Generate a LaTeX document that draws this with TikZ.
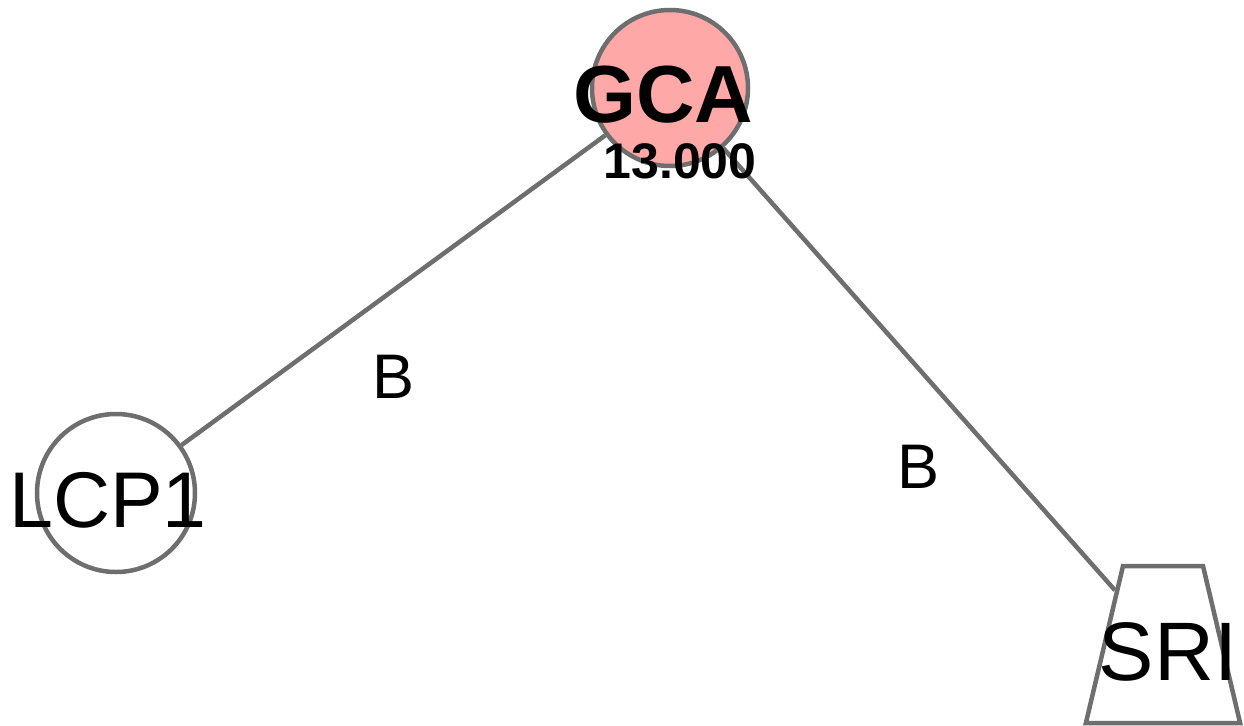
\documentclass[tikz,border=0pt]{standalone}
\usepackage{fontspec}
\setmainfont{Liberation Sans}
\usepackage{xcolor}
\usetikzlibrary{shapes.geometric}
\definecolor{edgegray}{HTML}{6E6E6E}
\definecolor{gcared}{HTML}{FFA8A8}

\begin{document}
\begin{tikzpicture}[x=1pt, y=-1pt,
    gene/.style={circle, draw=edgegray, line width=4.5pt, inner sep=0pt},
    link/.style={draw=edgegray, line width=4.5pt},
    namelbl/.style={anchor=base, inner sep=0pt},
    edgelbl/.style={anchor=base, inner sep=0pt, font=\fontsize{63}{74}\selectfont}]
        \useasboundingbox (0,0) rectangle (1244,725);

        % Gene nodes
        \node[gene, fill=gcared, minimum size=156pt] (GCA) at (670,88) {};
        \node[gene, fill=white, minimum size=158pt] (LCP1) at (116,493) {};
        \node[trapezium, trapezium angle=76.7, draw=edgegray, line width=4.5pt,
              fill=white, inner xsep=40pt, inner ysep=78.5pt] (SRI) at (1163,644.5) {};

        % Interactions
        \draw[link] (GCA) -- (LCP1);
        \draw[link] (GCA) -- (SRI);
        \node[edgelbl] (lblA) at (394,398) {B};
        \node[edgelbl] (lblB) at (918,488) {B};

        % Node texts
        \node[anchor=base, inner sep=0pt, font=\fontsize{81}{96}\selectfont\bfseries] (GCAname) at (663,122) {GCA};
        \node[anchor=base, inner sep=0pt, font=\fontsize{50}{60}\selectfont\bfseries] (GCAval) at (680,178) {13.000};
        \node[namelbl, font=\fontsize{79}{94}\selectfont] (LCP1name) at (108,527) {LCP1};
        \node[namelbl, font=\fontsize{83}{98}\selectfont] (SRIname) at (1168,680) {SRI};
    \end{tikzpicture}
\end{document}
